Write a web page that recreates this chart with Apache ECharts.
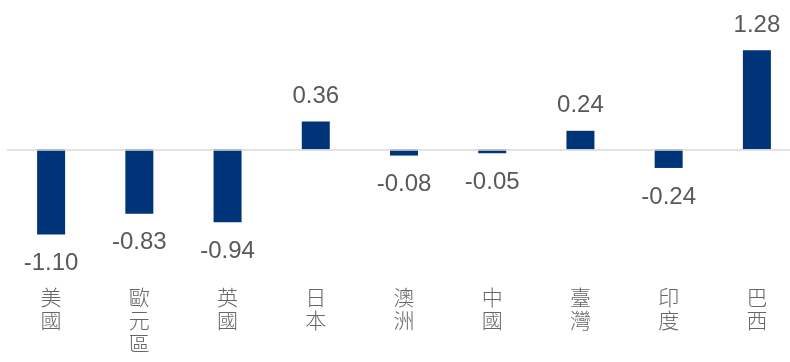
<!DOCTYPE html>
<html>
<head>
<meta charset="utf-8">
<script src="https://cdn.jsdelivr.net/npm/echarts@6/dist/echarts.min.js"></script>
<style>
  html, body { margin: 0; padding: 0; background: #ffffff; }
  #chart { width: 790px; height: 362px; }
</style>
</head>
<body>
<div id="chart"></div>
<script>
// Regions along the category axis
const regions = ['美國', '歐元區', '英國', '日本', '澳洲', '中國', '臺灣', '印度', '巴西'];
// Value for each region
const values = [-1.10, -0.83, -0.94, 0.36, -0.08, -0.05, 0.24, -0.24, 1.28];

const chart = echarts.init(document.getElementById('chart'), null, { renderer: 'canvas' });

chart.setOption({
  animation: false,
  backgroundColor: '#ffffff',
  grid: {
    left: 7, right: -11, top: 10, bottom: 81,
    containLabel: false,
    outerBoundsMode: 'none'
  },
  xAxis: {
    type: 'category',
    data: regions,
    position: 'bottom',
    axisLine: { show: false },
    axisTick: { show: false },
    axisLabel: {
      margin: 5,
      interval: 0,
      color: '#666666',
      fontFamily: 'Noto Sans CJK TC',
      fontWeight: 300,
      fontSize: 21,
      lineHeight: 23,
      verticalAlign: 'top',
      formatter: v => v.split('').join('\n')
    }
  },
  yAxis: {
    type: 'value',
    min: -1.7,
    max: 1.8,
    show: false,
    splitLine: { show: false }
  },
  series: [{
    type: 'bar',
    data: values.map(v => v < 0
      ? { value: v, label: { position: 'bottom', distance: 17 } }
      : v),
    barWidth: 28,
    itemStyle: { color: '#003478' },
    label: {
      show: true,
      position: 'top',
      distance: 13,
      color: '#595959',
      fontFamily: 'Liberation Sans',
      fontSize: 24,
      formatter: p => p.value.toFixed(2)
    },
    markLine: {
      silent: true,
      symbol: 'none',
      label: { show: false },
      lineStyle: { color: '#d9d9d9', width: 1.5, type: 'solid' },
      data: [{ yAxis: 0 }]
    }
  }]
});
</script>
</body>
</html>
